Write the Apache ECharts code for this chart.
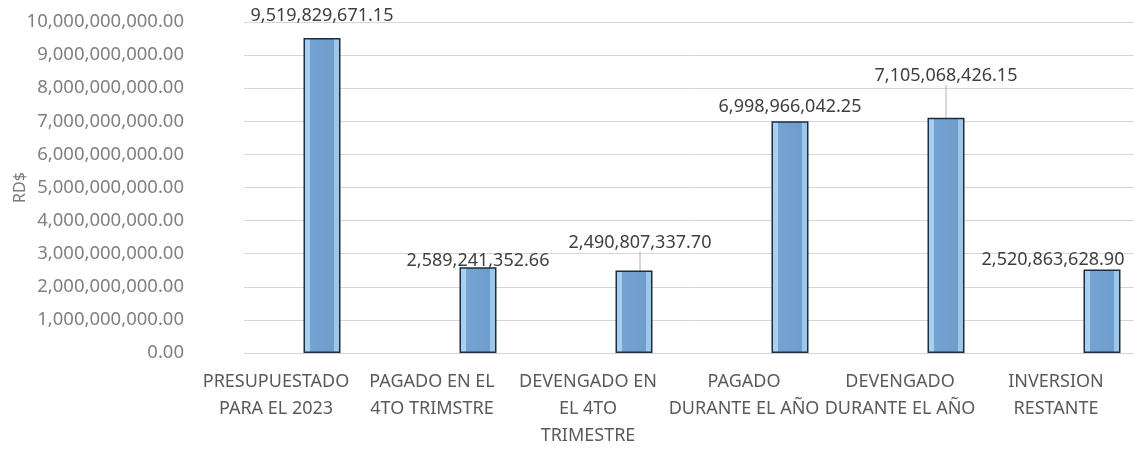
<!DOCTYPE html>
<html lang="es">

<head>
    <meta charset="UTF-8">
    <title>Inversión 2023</title>
    <style>
        html, body { margin: 0; padding: 0; background: #fff; }
        #chart { width: 1134px; height: 453px; }
    </style>
</head>

<body>
    <div id="chart"></div>
</body>
<script src="https://cdn.jsdelivr.net/npm/echarts/dist/echarts.min.js"></script>

<script>
    var categorias = ['PRESUPUESTADO\nPARA EL 2023', 'PAGADO EN EL\n4TO TRIMSTRE', 'DEVENGADO EN\nEL 4TO\nTRIMESTRE',
        'PAGADO\nDURANTE EL AÑO', 'DEVENGADO\nDURANTE EL AÑO', 'INVERSION\nRESTANTE']
    var montos = [9519829671.15, 2589241352.66, 2490807337.70, 6998966042.25, 7105068426.15, 2520863628.90]
    var ejeMin = 0
    var ejeMax = 10000000000
    var ejeIntervalo = 1000000000

    // ajustes de etiquetas para parecerse al original (dx, dy)
    var moverEtiqueta = [[0, -8], [0, 8], [6, -14], [0, 0], [0, -28], [-49, 4]]
    var conLinea = [false, false, true, false, true, false]

    function fmt(v) {
        return Number(v).toLocaleString('en-US', { minimumFractionDigits: 2, maximumFractionDigits: 2 })
    }

    var myChart = echarts.init(document.getElementById('chart'))

    var option = {
        backgroundColor: '#ffffff',
        animation: false,
        textStyle: { fontFamily: 'Noto Sans' },
        grid: { left: 244, top: 22, bottom: 100, width: 936, outerBoundsMode: 'none', containLabel: false },
        xAxis: {
            type: 'category',
            data: categorias,
            axisLine: { show: false },
            axisTick: { show: false },
            axisLabel: {
                interval: 0,
                margin: 15,
                fontSize: 18,
                lineHeight: 27,
                color: '#5a5a5a',
                padding: [0, 92, 0, 0]
            }
        },
        yAxis: {
            type: 'value',
            min: ejeMin,
            max: ejeMax,
            interval: ejeIntervalo,
            name: 'RD$',
            nameLocation: 'middle',
            nameGap: 216,
            nameRotate: 90,
            nameMoveOverlap: false,
            nameTextStyle: { fontSize: 16, color: '#7a7a7a' },
            axisLine: { show: false },
            axisTick: { show: false },
            axisLabel: {
                margin: 60,
                fontSize: 18.5,
                color: '#808080',
                formatter: fmt
            },
            splitLine: { lineStyle: { color: '#d6d6d6', width: 1 } }
        },
        series: [
            {
                type: 'bar',
                barWidth: 37,
                data: montos.map(function (v, i) {
                    return { value: v, labelLine: { show: conLinea[i] } }
                }),
                itemStyle: {
                    borderColor: '#1c2d40',
                    borderWidth: 1.5,
                    color: {
                        type: 'linear', x: 0, y: 0, x2: 1, y2: 0,
                        colorStops: [
                            { offset: 0, color: '#a8d0f2' },
                            { offset: 0.17, color: '#a8d0f2' },
                            { offset: 0.17, color: '#75a4d2' },
                            { offset: 0.83, color: '#6e9dcb' },
                            { offset: 0.83, color: '#9cc6ea' },
                            { offset: 1, color: '#9cc6ea' }
                        ]
                    }
                },
                label: {
                    show: true,
                    position: 'top',
                    fontSize: 18,
                    color: '#3f3f3f',
                    formatter: function (p) { return fmt(p.value) }
                },
                labelLine: {
                    lineStyle: { color: '#b0b0b0', width: 1 }
                },
                labelLayout: function (p) {
                    var m = moverEtiqueta[p.dataIndex]
                    return { dx: m[0], dy: m[1] }
                }
            }
        ]
    }
    myChart.setOption(option)
</script>

</html>
